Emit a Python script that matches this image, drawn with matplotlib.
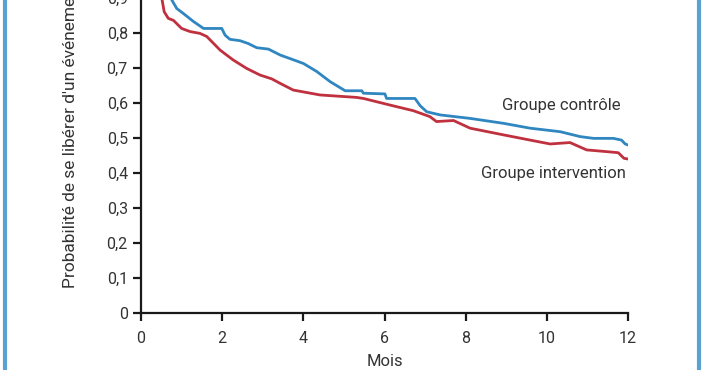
import matplotlib
matplotlib.use("Agg")
import matplotlib.pyplot as plt
from matplotlib.lines import Line2D

plt.rcParams['font.family'] = ['Roboto', 'DejaVu Sans']

# Kaplan-Meier-like curves
mois_controle = [0.0, 0.55, 0.76, 0.88, 1.04, 1.29, 1.54, 1.99, 2.07, 2.19, 2.44, 2.64, 2.85,
                 3.14, 3.43, 3.67, 4.0, 4.33, 4.66, 5.03, 5.44, 5.48, 6.01, 6.05, 6.75,
                 6.88, 7.04, 7.37, 8.11, 8.93, 9.59, 10.33, 10.82, 11.15, 11.64, 11.84,
                 11.93, 12.0]
prob_controle = [1.0, 0.97, 0.894, 0.87, 0.856, 0.833, 0.813, 0.813, 0.794, 0.782, 0.778,
                 0.770, 0.758, 0.754, 0.737, 0.727, 0.713, 0.69, 0.661, 0.635, 0.635,
                 0.628, 0.626, 0.613, 0.613, 0.592, 0.575, 0.566, 0.556, 0.542, 0.528,
                 0.518, 0.504, 0.499, 0.499, 0.494, 0.483, 0.48]

mois_interv = [0.0, 0.45, 0.52, 0.57, 0.67, 0.80, 1.0, 1.21, 1.45, 1.62, 1.95, 2.27, 2.60,
               2.93, 3.22, 3.43, 3.75, 4.41, 5.31, 5.48, 6.14, 6.71, 7.12, 7.28, 7.70,
               8.11, 8.93, 9.59, 10.08, 10.57, 10.98, 11.48, 11.76, 11.90, 12.0]
prob_interv = [1.0, 0.97, 0.894, 0.861, 0.842, 0.836, 0.813, 0.804, 0.799, 0.790, 0.751,
               0.723, 0.699, 0.680, 0.669, 0.656, 0.637, 0.623, 0.616, 0.613, 0.594,
               0.578, 0.561, 0.547, 0.55, 0.528, 0.509, 0.494, 0.483, 0.487, 0.466,
               0.461, 0.458, 0.442, 0.44]

xticks = [0, 2, 4, 6, 8, 10, 12]
yticks = [0, 0.1, 0.2, 0.3, 0.4, 0.5, 0.6, 0.7, 0.8, 0.9, 1.0]
ytick_labels = ["0", "0,1", "0,2", "0,3", "0,4", "0,5", "0,6", "0,7", "0,8", "0,9", "1"]

txt = '#333333'
fig = plt.figure(figsize=(7.02, 3.70), dpi=100)
ax = fig.add_axes([0.2009, 0.154, 0.6937, 0.946])

ax.plot(mois_controle, prob_controle, color='#2f86c1', lw=2)
ax.plot(mois_interv, prob_interv, color='#c0313f', lw=2)

ax.set_xlim(0, 12)
ax.set_ylim(0, 1.0)
ax.set_xticks(xticks)
ax.set_yticks(yticks)
ax.set_yticklabels(ytick_labels)
for s in ['top', 'right']:
    ax.spines[s].set_visible(False)
for s in ['left', 'bottom']:
    ax.spines[s].set_linewidth(1.6)
    ax.spines[s].set_color('#1a1a1a')
ax.tick_params(length=6, width=1.6, color='#1a1a1a', labelsize=11.5, labelcolor=txt)
ax.tick_params(axis='x', pad=7)

ax.set_xlabel('Mois', fontsize=12, color=txt, labelpad=6)
fig.text(71 / 702, 1 - 288 / 370, "Probabilité de se libérer d'un événement", rotation=90,
         ha='center', va='bottom', fontsize=12.5, color=txt)

ax.text(11.83, 0.593, 'Groupe contrôle', ha='right', va='center', fontsize=12, color=txt)
ax.text(11.95, 0.40, 'Groupe intervention', ha='right', va='center', fontsize=12, color=txt)

# blue frame lines at the sides
for xf in [4.5 / 702, 698.5 / 702]:
    fig.add_artist(Line2D([xf, xf], [0, 1], transform=fig.transFigure, color='#5aa2d2', lw=3))

fig.savefig('out.png', dpi=100)
